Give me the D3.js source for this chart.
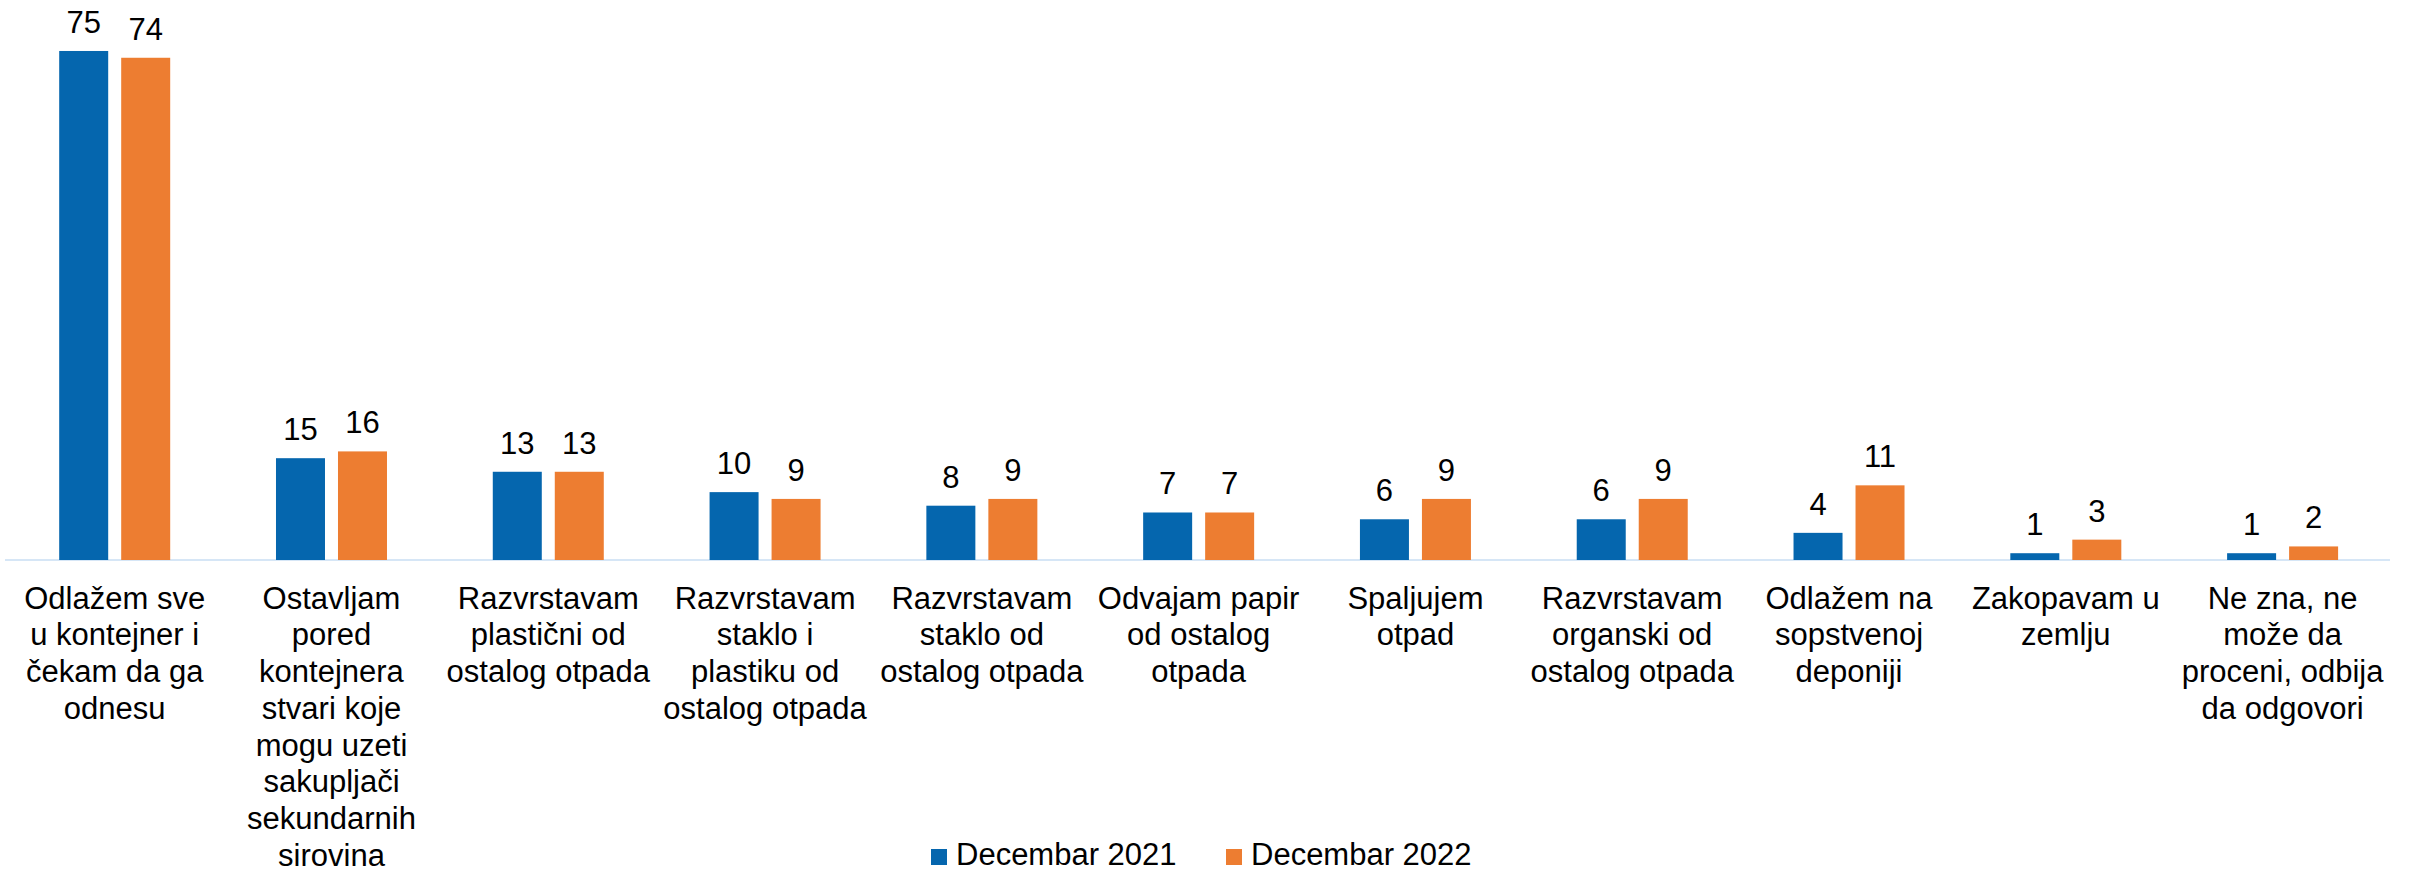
<!DOCTYPE html>
<html>
<head>
<meta charset="utf-8">
<script src="https://cdn.jsdelivr.net/npm/d3@7"></script>
<style>
html, body { margin: 0; padding: 0; background: #ffffff; }
svg { display: block; font-family: "Liberation Sans", Arial, sans-serif; }
</style>
</head>
<body>
<svg id="chart" width="2417" height="872"></svg>
<script>
const categories = [
  "Odlažem sve\nu kontejner i\nčekam da ga\nodnesu",
  "Ostavljam\npored\nkontejnera\nstvari koje\nmogu uzeti\nsakupljači\nsekundarnih\nsirovina",
  "Razvrstavam\nplastični od\nostalog otpada",
  "Razvrstavam\nstaklo i\nplastiku od\nostalog otpada",
  "Razvrstavam\nstaklo od\nostalog otpada",
  "Odvajam papir\nod ostalog\notpada",
  "Spaljujem\notpad",
  "Razvrstavam\norganski od\nostalog otpada",
  "Odlažem na\nsopstvenoj\ndeponiji",
  "Zakopavam u\nzemlju",
  "Ne zna, ne\nmože da\nproceni, odbija\nda odgovori"
];
const seriesNames = ["Decembar 2021", "Decembar 2022"];
const values2021 = [75, 15, 13, 10, 8, 7, 6, 6, 4, 1, 1];
const values2022 = [74, 16, 13, 9, 9, 7, 9, 9, 11, 3, 2];
const seriesColors = ["#0566AE", "#ED7D31"];

const seriesValues = [values2021, values2022];

const svg = d3.select("#chart");
const baseY = 560;
const y = d3.scaleLinear().domain([0, 80]).range([baseY, baseY - 80 * 6.787]);

const x = d3.scaleBand()
  .domain(categories)
  .range([6.3, 2391])
  .paddingInner(0.488)
  .paddingOuter(0.244);

const xSub = d3.scaleBand()
  .domain(seriesNames)
  .range([0, x.bandwidth()])
  .paddingInner(0.2097)
  .paddingOuter(0);

// axis baseline
svg.append("line")
  .attr("x1", 5).attr("x2", 2390)
  .attr("y1", baseY).attr("y2", baseY)
  .attr("stroke", "#d6e6f6")
  .attr("stroke-width", 2);

const rows = categories.map((c, i) => ({ cat: c, vals: seriesValues.map(s => s[i]) }));

const groups = svg.selectAll("g.cat")
  .data(rows)
  .enter().append("g")
  .attr("class", "cat")
  .attr("transform", d => `translate(${x(d.cat)},0)`);

groups.selectAll("rect")
  .data(d => d.vals.map((v, j) => ({ v, s: seriesNames[j], j })))
  .enter().append("rect")
  .attr("x", d => xSub(d.s))
  .attr("width", xSub.bandwidth())
  .attr("y", d => y(d.v))
  .attr("height", d => baseY - y(d.v))
  .attr("fill", d => seriesColors[d.j]);

groups.selectAll("text.val")
  .data(d => d.vals.map((v, j) => ({ v, s: seriesNames[j], j })))
  .enter().append("text")
  .attr("class", "val")
  .attr("x", d => xSub(d.s) + xSub.bandwidth() / 2)
  .attr("y", d => y(d.v) - 18)
  .attr("text-anchor", "middle")
  .attr("font-size", 31)
  .attr("fill", "#000")
  .text(d => d.v);

// category labels
groups.append("text")
  .attr("class", "cat-label")
  .attr("text-anchor", "middle")
  .attr("font-size", 31)
  .attr("fill", "#000")
  .selectAll("tspan")
  .data(d => d.cat.split("\n"))
  .enter().append("tspan")
  .attr("x", x.bandwidth() / 2)
  .attr("y", (d, i) => 608.7 + i * 36.7)
  .text(d => d);

// legend
const legendX = [931, 1226];
const legend = svg.selectAll("g.legend")
  .data(seriesNames)
  .enter().append("g")
  .attr("class", "legend")
  .attr("transform", (d, i) => `translate(${legendX[i]},0)`);
legend.append("rect")
  .attr("x", 0).attr("y", 849)
  .attr("width", 16).attr("height", 16)
  .attr("fill", (d, i) => seriesColors[i]);
legend.append("text")
  .attr("x", 25).attr("y", 865)
  .attr("font-size", 31)
  .attr("fill", "#000")
  .text(d => d);
</script>
</body>
</html>
